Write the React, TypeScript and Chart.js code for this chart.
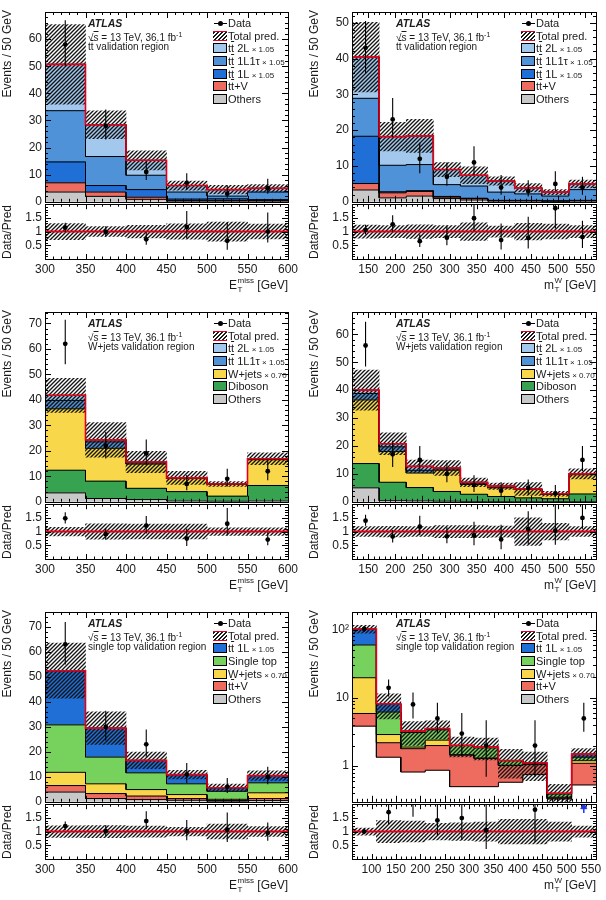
import React, { useEffect, useRef } from 'react';
import { Chart, registerables } from 'chart.js';

Chart.register(...registerables);

const FONT = "'Liberation Sans', Arial, Helvetica, sans-serif";
const INK = '#1a1a1a';

// process colours
const C_OTHERS = '#c8c8c8';
const C_TTV = '#ee6b60';
const C_TT1L = '#1f6fd6';
const C_TT1LTAU = '#4f92d8';
const C_TT2L = '#a3c8ee';
const C_WJETS = '#f8d84a';
const C_DIBOSON = '#37a24f';
const C_SINGLETOP = '#76d15d';
const C_TOTAL = '#e2001a';

// ---------- binning and axis labels ----------
const MET_EDGES = [300, 350, 400, 450, 500, 550, 600];
const MTW_EDGES = [120, 170, 220, 270, 320, 370, 420, 470, 520, 570];
const MTW_EDGES_ST = [60, 110, 160, 210, 260, 310, 360, 410, 460, 510, 560];
const MET_TICKS = [300, 350, 400, 450, 500, 550, 600];
const MTW_TICKS = [150, 200, 250, 300, 350, 400, 450, 500, 550];
const MTW_TICKS_ST = [100, 150, 200, 250, 300, 350, 400, 450, 500, 550];

// ---------- ttbar validation region, E_T^miss ----------
const ttMet_others = [3.6, 2.0, 0.9, 0.2, 0.2, 0.2];
const ttMet_ttV = [3.4, 1.6, 0.8, 0.3, 0.3, 0.3];
const ttMet_tt1L = [7.7, 2.4, 2.8, 0.5, 0.6, 0.3];
const ttMet_tt1Ltau = [18.9, 10.7, 5.3, 2.6, 1.0, 2.8];
const ttMet_tt2L = [17.1, 11.7, 5.5, 2.4, 2.4, 1.4];
const ttMet_unc = [0.29, 0.18, 0.23, 0.28, 0.35, 0.27];
const ttMet_data = [58, 28, 11, 7, 3, 5];
const ttMet_dataLo = [50, 23, 8, 4.5, 1.5, 3];
const ttMet_dataHi = [67, 34, 15, 10.5, 6, 8.5];

// ---------- ttbar validation region, m_T^W ----------
const ttMt_others = [3.3, 1.1, 1.6, 0.9, 0.5, 0.2, 0.2, 0.1, 0.2];
const ttMt_ttV = [1.8, 1.4, 1.3, 0.4, 0.4, 0.1, 0.1, 0.1, 0.1];
const ttMt_tt1L = [13.2, 0.3, 0.2, 0.2, 0.1, 0.1, 0.1, 0.1, 0.1];
const ttMt_tt1Ltau = [10.6, 7.4, 7.3, 3.3, 3.4, 2.3, 1.8, 1.3, 3.0];
const ttMt_tt2L = [11.5, 8.0, 8.0, 4.2, 3.0, 3.1, 1.7, 1.1, 1.6];
const ttMt_unc = [0.24, 0.22, 0.25, 0.22, 0.32, 0.2, 0.3, 0.27, 0.22];
const ttMt_data = [43, 23, 12, 7, 11, 4, 3, 5, 4];
const ttMt_dataLo = [36, 18, 8, 4.5, 7.5, 2, 1.5, 3, 2];
const ttMt_dataHi = [50.5, 29, 16.5, 11, 15.5, 7.5, 6, 8.5, 7];

// ---------- W+jets validation region, E_T^miss ----------
const wMet_others = [3.5, 1.3, 0.9, 0.3, 0.2, 0.3];
const wMet_diboson = [8.9, 6.8, 4.4, 3.7, 2.0, 6.1];
const wMet_wjets = [24.1, 12.9, 9.5, 5.1, 4.6, 10.1];
const wMet_tt1Ltau = [3.3, 2.5, 0.5, 0.2, 0.1, 0.2];
const wMet_tt2L = [2.0, 0.8, 0.3, 0.1, 0.1, 0.2];
const wMet_unc = [0.16, 0.28, 0.27, 0.27, 0.14, 0.14];
const wMet_data = [62, 22, 19, 7, 9, 12];
const wMet_dataLo = [54, 17, 14.5, 4.5, 6, 8.5];
const wMet_dataHi = [71.5, 27.5, 24.5, 10.5, 13, 16.5];

// ---------- W+jets validation region, m_T^W ----------
const wMt_others = [5.0, 0.4, 0.3, 0.2, 0.1, 0.1, 0.1, 0.1, 0.1];
const wMt_diboson = [8.7, 6.6, 4.8, 3.5, 2.6, 1.8, 1.3, 1.0, 2.7];
const wMt_wjets = [22.8, 11.0, 5.2, 7.6, 3.5, 3.1, 3.0, 1.5, 6.9];
const wMt_tt1Ltau = [2.3, 1.7, 1.0, 0.5, 0.5, 0.4, 0.1, 0.2, 0.2];
const wMt_tt2L = [1.2, 1.1, 1.4, 0.3, 0.3, 0.2, 0.1, 0.1, 0.1];
const wMt_unc = [0.18, 0.19, 0.18, 0.22, 0.22, 0.2, 0.5, 0.3, 0.18];
const wMt_data = [56, 17, 15, 10, 6, 4, 5, 3, 15];
const wMt_dataLo = [48.5, 12.5, 11, 7, 3.5, 2, 2.5, 1.5, 11];
const wMt_dataHi = [64.5, 22, 20, 14, 9.5, 7, 8, 6, 20];

// ---------- single top validation region, E_T^miss ----------
const stMet_others = [3.9, 1.3, 0.9, 0.6, 0.2, 0.5];
const stMet_ttV = [2.6, 2.0, 1.4, 0.7, 0.3, 0.8];
const stMet_wjets = [5.3, 3.9, 2.6, 1.6, 0.5, 2.3];
const stMet_singletop = [19.0, 10.7, 6.7, 4.3, 3.2, 4.0];
const stMet_tt1L = [21.7, 11.6, 5.0, 3.7, 1.4, 2.9];
const stMet_unc = [0.21, 0.22, 0.2, 0.16, 0.27, 0.18];
const stMet_data = [63, 30, 23, 11, 6, 10];
const stMet_dataLo = [55, 24.5, 18, 7.5, 3.5, 7];
const stMet_dataHi = [72, 36.5, 29, 15.5, 9.5, 14];

// ---------- single top validation region, m_T^W (log scale) ----------
const stMt_others = [3.85, 1.35, 0.82, 0.87, 0.5, 0.5, 0.58, 0.75, 0.33, 0.53];
const stMt_ttV = [2.05, 0.85, 0.98, 1.13, 0.95, 0.8, 0.44, 0.3, 0.01, 0.57];
const stMt_wjets = [13.8, 0.7, 0.1, 0.4, 0.02, 0.01, 0.01, 0.01, 0.01, 0.1];
const stMt_singletop = [39.8, 3.3, 1.2, 1.0, 0.53, 0.54, 0.17, 0.04, 0.04, 0.15];
const stMt_tt1L = [42.5, 2.0, 0.15, 0.15, 0.01, 0.05, 0.01, 0.01, 0.01, 0.15];
const stMt_unc = [0.13, 0.4, 0.38, 0.3, 0.32, 0.35, 0.45, 0.45, 0.35, 0.2];
const stMt_data: (number | null)[] = [102, 14, 8, 5, 3, 2, null, 2, null, 5];
const stMt_dataLo: (number | null)[] = [92, 10.5, 5, 3, 1.4, 0.7, null, 0.7, null, 3.2];
const stMt_dataHi: (number | null)[] = [113, 18.5, 12, 8.5, 6, 4.7, null, 4.7, null, 8.5];

// ---------- types ----------
type Comp = { name: string; tt?: boolean; scale?: string; color: string; values: number[] };
type PanelDef = {
  id: string;
  col: number;
  row: number;
  edges: number[];
  xTicks: number[];
  xVar: 'met' | 'mtw';
  log?: boolean;
  yMin: number;
  yMax: number;
  yTicks: number[];
  region: string;
  regionTt?: boolean;
  comps: Comp[]; // bottom of the stack first
  unc: number[];
  data: (number | null)[];
  dataLo: (number | null)[];
  dataHi: (number | null)[];
};

const ttComps = (o: number[], v: number[], l: number[], lt: number[], dl: number[]): Comp[] => [
  { name: 'Others', color: C_OTHERS, values: o },
  { name: '+V', tt: true, color: C_TTV, values: v },
  { name: ' 1L', tt: true, scale: '\u00d7 1.05', color: C_TT1L, values: l },
  { name: ' 1L1\u03c4', tt: true, scale: '\u00d7 1.05', color: C_TT1LTAU, values: lt },
  { name: ' 2L', tt: true, scale: '\u00d7 1.05', color: C_TT2L, values: dl },
];
const wComps = (o: number[], d: number[], w: number[], lt: number[], dl: number[]): Comp[] => [
  { name: 'Others', color: C_OTHERS, values: o },
  { name: 'Diboson', color: C_DIBOSON, values: d },
  { name: 'W+jets', scale: '\u00d7 0.70', color: C_WJETS, values: w },
  { name: ' 1L1\u03c4', tt: true, scale: '\u00d7 1.05', color: C_TT1LTAU, values: lt },
  { name: ' 2L', tt: true, scale: '\u00d7 1.05', color: C_TT2L, values: dl },
];
const stComps = (o: number[], v: number[], w: number[], s: number[], l: number[]): Comp[] => [
  { name: 'Others', color: C_OTHERS, values: o },
  { name: '+V', tt: true, color: C_TTV, values: v },
  { name: 'W+jets', scale: '\u00d7 0.70', color: C_WJETS, values: w },
  { name: 'Single top', color: C_SINGLETOP, values: s },
  { name: ' 1L', tt: true, scale: '\u00d7 1.05', color: C_TT1L, values: l },
];

const PANELS: PanelDef[] = [
  {
    id: 'tt-met', col: 0, row: 0, edges: MET_EDGES, xTicks: MET_TICKS, xVar: 'met',
    yMin: 0, yMax: 70, yTicks: [0, 10, 20, 30, 40, 50, 60],
    region: ' validation region', regionTt: true,
    comps: ttComps(ttMet_others, ttMet_ttV, ttMet_tt1L, ttMet_tt1Ltau, ttMet_tt2L),
    unc: ttMet_unc, data: ttMet_data, dataLo: ttMet_dataLo, dataHi: ttMet_dataHi,
  },
  {
    id: 'tt-mt', col: 1, row: 0, edges: MTW_EDGES, xTicks: MTW_TICKS, xVar: 'mtw',
    yMin: 0, yMax: 53, yTicks: [0, 10, 20, 30, 40, 50],
    region: ' validation region', regionTt: true,
    comps: ttComps(ttMt_others, ttMt_ttV, ttMt_tt1L, ttMt_tt1Ltau, ttMt_tt2L),
    unc: ttMt_unc, data: ttMt_data, dataLo: ttMt_dataLo, dataHi: ttMt_dataHi,
  },
  {
    id: 'w-met', col: 0, row: 1, edges: MET_EDGES, xTicks: MET_TICKS, xVar: 'met',
    yMin: 0, yMax: 74.5, yTicks: [0, 10, 20, 30, 40, 50, 60, 70],
    region: 'W+jets validation region',
    comps: wComps(wMet_others, wMet_diboson, wMet_wjets, wMet_tt1Ltau, wMet_tt2L),
    unc: wMet_unc, data: wMet_data, dataLo: wMet_dataLo, dataHi: wMet_dataHi,
  },
  {
    id: 'w-mt', col: 1, row: 1, edges: MTW_EDGES, xTicks: MTW_TICKS, xVar: 'mtw',
    yMin: 0, yMax: 68, yTicks: [0, 10, 20, 30, 40, 50, 60],
    region: 'W+jets validation region',
    comps: wComps(wMt_others, wMt_diboson, wMt_wjets, wMt_tt1Ltau, wMt_tt2L),
    unc: wMt_unc, data: wMt_data, dataLo: wMt_dataLo, dataHi: wMt_dataHi,
  },
  {
    id: 'st-met', col: 0, row: 2, edges: MET_EDGES, xTicks: MET_TICKS, xVar: 'met',
    yMin: 0, yMax: 76, yTicks: [0, 10, 20, 30, 40, 50, 60, 70],
    region: 'single top validation region',
    comps: stComps(stMet_others, stMet_ttV, stMet_wjets, stMet_singletop, stMet_tt1L),
    unc: stMet_unc, data: stMet_data, dataLo: stMet_dataLo, dataHi: stMet_dataHi,
  },
  {
    id: 'st-mt', col: 1, row: 2, edges: MTW_EDGES_ST, xTicks: MTW_TICKS_ST, xVar: 'mtw', log: true,
    yMin: 0.33, yMax: 181, yTicks: [1, 10, 100],
    region: 'single top validation region',
    comps: stComps(stMt_others, stMt_ttV, stMt_wjets, stMt_singletop, stMt_tt1L),
    unc: stMt_unc, data: stMt_data, dataLo: stMt_dataLo, dataHi: stMt_dataHi,
  },
];

// ---------- page geometry ----------
const COL_X = [0, 303];
const ROW_Y = [0, 300, 600];
const PLOT_L = [45, 49];
const PLOT_R = [288, 293];
const MAIN_TOP = 12;
const MAIN_BOTTOM = 202;
const RATIO_BOTTOM = 259;
const MAIN_H = 212;
const RATIO_TOP_CANVAS = 194;
const RATIO_H = 106;
const RATIO_MIN = 0;
const RATIO_MAX = 2;

// ---------- helpers ----------
const seq = (a: number, b: number, step: number) => {
  const out: number[] = [];
  for (let k = 0; a + k * step <= b + 1e-9; k++) out.push(Math.round((a + k * step) * 1000) / 1000);
  return out;
};
const logMinors = (lo: number, hi: number) => {
  const out: number[] = [];
  for (let d = 0.01; d <= hi; d *= 10) for (let k = 2; k <= 9; k++) { const v = d * k; if (v >= lo && v <= hi) out.push(v); }
  return out;
};
const steps = (edges: number[], vals: number[]) => {
  const pts: { x: number; y: number }[] = [];
  vals.forEach((v, i) => pts.push({ x: edges[i], y: v }, { x: edges[i + 1], y: v }));
  return pts;
};
const centersOf = (edges: number[]) => edges.slice(0, -1).map((e, i) => (e + edges[i + 1]) / 2);

function makeHatch(): CanvasPattern {
  const c = document.createElement('canvas');
  c.width = 4;
  c.height = 4;
  const g = c.getContext('2d')!;
  g.strokeStyle = '#141414';
  g.lineWidth = 1.35;
  g.beginPath();
  g.moveTo(0, 4); g.lineTo(4, 0);
  g.moveTo(-1, 1); g.lineTo(1, -1);
  g.moveTo(3, 5); g.lineTo(5, 3);
  g.stroke();
  return g.createPattern(c, 'repeat')!;
}

// frame with inward tick marks on all four sides
const frameTicks = {
  id: 'frameTicks',
  afterDatasetsDraw(chart: any, _a: any, o: any) {
    const { ctx, chartArea: a, scales } = chart;
    const sx = scales.x, sy = scales.y;
    ctx.save();
    ctx.strokeStyle = '#000';
    ctx.lineWidth = 1;
    ctx.beginPath();
    const xs: [number[], number][] = [[o.xMajor, o.xMajorLen], [o.xMinor, o.xMinorLen]];
    for (const [vals, len] of xs) {
      for (const v of vals) {
        const p = Math.round(sx.getPixelForValue(v)) + 0.5;
        if (p < a.left || p > a.right) continue;
        ctx.moveTo(p, a.bottom); ctx.lineTo(p, a.bottom - len);
        ctx.moveTo(p, a.top); ctx.lineTo(p, a.top + len);
      }
    }
    const ys: [number[], number][] = [[o.yMajor, o.yMajorLen], [o.yMinor, o.yMinorLen]];
    for (const [vals, len] of ys) {
      for (const v of vals) {
        const p = Math.round(sy.getPixelForValue(v)) + 0.5;
        if (p < a.top || p > a.bottom) continue;
        ctx.moveTo(a.left, p); ctx.lineTo(a.left + len, p);
        ctx.moveTo(a.right, p); ctx.lineTo(a.right - len, p);
      }
    }
    ctx.stroke();
    ctx.strokeRect(Math.round(a.left) + 0.5, Math.round(a.top) + 0.5, Math.round(a.right - a.left), Math.round(a.bottom - a.top));
    ctx.restore();
  },
};

const stepLine = (edges: number[], vals: number[], color: string, width: number, order: number) => ({
  type: 'line', data: steps(edges, vals), borderColor: color, borderWidth: width,
  pointRadius: 0, fill: false, order, tension: 0,
});
const histBar = (data: any[], bg: any, order: number) => ({
  type: 'bar', data, backgroundColor: bg, borderWidth: 0, grouped: false,
  barPercentage: 1, categoryPercentage: 1, order,
});

function cumulative(p: PanelDef) {
  const cum: number[][] = [];
  p.comps.forEach((c, k) => cum.push(c.values.map((v, i) => v + (k > 0 ? cum[k - 1][i] : 0))));
  return cum;
}

function commonOptions(pad: any, yScale: any, xScale: any, ft: any) {
  return {
    animation: false, responsive: false, devicePixelRatio: 1, events: [],
    layout: { padding: pad },
    plugins: { legend: { display: false }, tooltip: { enabled: false }, frameTicks: ft },
    scales: { x: xScale, y: yScale },
  };
}

function mainConfig(p: PanelDef, hatch: CanvasPattern): any {
  const centers = centersOf(p.edges);
  const cum = cumulative(p);
  const total = cum[cum.length - 1];
  const ds: any[] = [];
  p.comps.forEach((c, k) =>
    ds.push(histBar(centers.map((x, i) => ({ x, y: [k > 0 ? cum[k - 1][i] : 0, cum[k][i]] })), c.color, 100)));
  cum.forEach((row) => ds.push(stepLine(p.edges, row, '#000', 1, 90)));
  ds.push(histBar(centers.map((x, i) => ({ x, y: [total[i] * (1 - p.unc[i]), total[i] * (1 + p.unc[i])] })), hatch, 50));
  ds.push(stepLine(p.edges, total, C_TOTAL, 1.6, 40));
  const bars: any[] = [];
  const pts: any[] = [];
  p.data.forEach((d, i) => {
    if (d == null) return;
    bars.push({ x: centers[i], y: p.dataLo[i] }, { x: centers[i], y: p.dataHi[i] }, { x: centers[i], y: null });
    pts.push({ x: centers[i], y: d });
  });
  ds.push({ type: 'line', data: bars, borderColor: '#000', borderWidth: 1.1, pointRadius: 0, spanGaps: false, fill: false, order: 20 });
  ds.push({ type: 'line', data: pts, showLine: false, pointRadius: 2.4, pointBackgroundColor: '#000', pointBorderWidth: 0, order: 10 });

  const col = p.col;
  const yMinor = p.log ? logMinors(p.yMin, p.yMax) : seq(0, p.yMax, 2);
  return {
    type: 'bar',
    data: { datasets: ds },
    options: commonOptions(
      { top: MAIN_TOP, right: 303 - PLOT_R[col], bottom: MAIN_H - MAIN_BOTTOM, left: 0 },
      {
        type: p.log ? 'logarithmic' : 'linear', min: p.yMin, max: p.yMax, position: 'left',
        grid: { display: false, drawTicks: false }, border: { display: false },
        ticks: {
          font: { family: FONT, size: 12 }, color: INK, padding: 3,
          callback: (v: number) => (v === 100 && p.log ? '10\u00b2' : String(v)),
        },
        afterBuildTicks: (s: any) => { s.ticks = p.yTicks.map((value) => ({ value })); },
        afterFit: (s: any) => { s.width = PLOT_L[col]; },
      },
      {
        type: 'linear', min: p.edges[0], max: p.edges[p.edges.length - 1], offset: false, display: false,
        afterBuildTicks: (s: any) => { s.ticks = p.xTicks.map((value) => ({ value })); },
      },
      {
        xMajor: p.xTicks, xMinor: seq(p.edges[0], p.edges[p.edges.length - 1], 10), xMajorLen: 6, xMinorLen: 3,
        yMajor: p.yTicks, yMinor, yMajorLen: 6, yMinorLen: 3,
      },
    ),
    plugins: [frameTicks],
  };
}

function ratioConfig(p: PanelDef, hatch: CanvasPattern): any {
  const centers = centersOf(p.edges);
  const cum = cumulative(p);
  const total = cum[cum.length - 1];
  const ds: any[] = [];
  ds.push(histBar(centers.map((x, i) => ({ x, y: [1 - p.unc[i], 1 + p.unc[i]] })), hatch, 50));
  ds.push({
    type: 'line', data: [{ x: p.edges[0], y: 1 }, { x: p.edges[p.edges.length - 1], y: 1 }],
    borderColor: C_TOTAL, borderWidth: 2, pointRadius: 0, fill: false, order: 40,
  });
  const bars: any[] = [];
  const pts: any[] = [];
  const arrows: any[] = [];
  const arrowHeads: any[] = [];
  p.data.forEach((d, i) => {
    if (d == null) return;
    const r = d / total[i];
    const lo = (p.dataLo[i] as number) / total[i];
    const hi = (p.dataHi[i] as number) / total[i];
    if (lo > RATIO_MAX) {
      arrows.push({ x: centers[i], y: RATIO_MAX - 0.32 }, { x: centers[i], y: RATIO_MAX - 0.06 }, { x: centers[i], y: null });
      arrowHeads.push({ x: centers[i], y: RATIO_MAX - 0.1 });
      return;
    }
    bars.push({ x: centers[i], y: lo }, { x: centers[i], y: hi }, { x: centers[i], y: null });
    pts.push({ x: centers[i], y: r });
  });
  ds.push({ type: 'line', data: bars, borderColor: '#000', borderWidth: 1.1, pointRadius: 0, spanGaps: false, fill: false, order: 20 });
  ds.push({ type: 'line', data: pts, showLine: false, pointRadius: 2.4, pointBackgroundColor: '#000', pointBorderWidth: 0, order: 10 });
  ds.push({ type: 'line', data: arrows, borderColor: '#2233ee', borderWidth: 1.5, pointRadius: 0, spanGaps: false, fill: false, order: 15 });
  ds.push({ type: 'line', data: arrowHeads, showLine: false, pointStyle: 'triangle', pointRadius: 3.5, pointBackgroundColor: '#2233ee', pointBorderColor: '#2233ee', order: 14 });

  const col = p.col;
  const chartBottom = RATIO_BOTTOM - RATIO_TOP_CANVAS;
  return {
    type: 'bar',
    data: { datasets: ds },
    options: commonOptions(
      { top: MAIN_BOTTOM - RATIO_TOP_CANVAS, right: 303 - PLOT_R[col], bottom: 0, left: 0 },
      {
        type: 'linear', min: RATIO_MIN, max: RATIO_MAX, position: 'left',
        grid: { display: false, drawTicks: false }, border: { display: false },
        ticks: { font: { family: FONT, size: 12 }, color: INK, padding: 3, callback: (v: number) => String(v) },
        afterBuildTicks: (s: any) => { s.ticks = [0.5, 1, 1.5].map((value) => ({ value })); },
        afterFit: (s: any) => { s.width = PLOT_L[col]; },
      },
      {
        type: 'linear', min: p.edges[0], max: p.edges[p.edges.length - 1], offset: false, position: 'bottom',
        grid: { display: false, drawTicks: false }, border: { display: false },
        ticks: { font: { family: FONT, size: 12 }, color: INK, padding: 3, maxRotation: 0, autoSkip: false, callback: (v: number) => String(v) },
        afterBuildTicks: (s: any) => { s.ticks = p.xTicks.map((value) => ({ value })); },
        afterFit: (s: any) => { s.height = RATIO_H - chartBottom; },
      },
      {
        xMajor: p.xTicks, xMinor: seq(p.edges[0], p.edges[p.edges.length - 1], 10), xMajorLen: 5, xMinorLen: 2.5,
        yMajor: [0.5, 1, 1.5], yMinor: seq(0.1, 1.9, 0.1), yMajorLen: 6, yMinorLen: 3,
      },
    ),
    plugins: [frameTicks],
  };
}

// ---------- text pieces ----------
const TTbar = () => (
  <span>t<span style={{ textDecoration: 'overline' }}>t</span></span>
);

function XTitle({ v }: { v: 'met' | 'mtw' }) {
  const met = v === 'met';
  return (
    <span style={{ whiteSpace: 'nowrap' }}>
      {met ? 'E' : 'm'}
      <span style={{ display: 'inline-flex', flexDirection: 'column', verticalAlign: 'middle', fontSize: 8, lineHeight: '9px', marginLeft: 0.5, marginTop: -2 }}>
        <span>{met ? 'miss' : 'W'}</span>
        <span>T</span>
      </span>
      {' [GeV]'}
    </span>
  );
}

const hatchCss = 'repeating-linear-gradient(-45deg, #1a1a1a 0 1.2px, transparent 1.2px 2.8px)';

function Legend({ p }: { p: PanelDef }) {
  const ox = COL_X[p.col];
  const oy = ROW_Y[p.row];
  const mx = ox + (p.col === 0 ? 213 : 218);
  const tx = ox + (p.col === 0 ? 228 : 233);
  const rowY = (k: number) => oy + 23.3 + 12.55 * k;
  const entries = [...p.comps].reverse();
  const label = (k: number, content: React.ReactNode) => (
    <div key={'t' + k} style={{ position: 'absolute', left: tx, top: rowY(k) - 7, height: 14, lineHeight: '14px', fontSize: 11, whiteSpace: 'nowrap', color: INK }}>
      {content}
    </div>
  );
  const items: React.ReactNode[] = [];
  // data
  items.push(<div key="dl" style={{ position: 'absolute', left: mx + 1, top: rowY(0) - 0.5, width: 13, height: 1, background: '#000' }} />);
  items.push(<div key="dd" style={{ position: 'absolute', left: mx + 5, top: rowY(0) - 2.5, width: 5, height: 5, borderRadius: 3, background: '#000' }} />);
  items.push(label(0, 'Data'));
  // total prediction
  items.push(
    <div key="tp" style={{ position: 'absolute', left: mx, top: rowY(1) - 5, width: 14, height: 10, backgroundImage: hatchCss, borderTop: `1px solid ${C_TOTAL}`, borderBottom: `1px solid ${C_TOTAL}`, boxSizing: 'border-box' }} />,
  );
  items.push(label(1, 'Total pred.'));
  entries.forEach((c, j) => {
    const k = j + 2;
    items.push(
      <div key={'s' + k} style={{ position: 'absolute', left: mx, top: rowY(k) - 5, width: 14, height: 10, background: c.color, border: '1px solid #000', boxSizing: 'border-box' }} />,
    );
    items.push(
      label(k, (
        <>
          {c.tt ? <TTbar /> : null}
          {c.name}
          {c.scale ? <span style={{ fontSize: 8 }}>{' ' + c.scale}</span> : null}
        </>
      )),
    );
  });
  return <>{items}</>;
}

function Panel({ p }: { p: PanelDef }) {
  const mainRef = useRef<HTMLCanvasElement>(null);
  const ratioRef = useRef<HTMLCanvasElement>(null);
  useEffect(() => {
    const c1 = new Chart(mainRef.current!, mainConfig(p, makeHatch()));
    const c2 = new Chart(ratioRef.current!, ratioConfig(p, makeHatch()));
    return () => { c1.destroy(); c2.destroy(); };
  }, [p]);
  const ox = COL_X[p.col];
  const oy = ROW_Y[p.row];
  const ax = ox + (p.col === 0 ? 88 : 93);
  const titleX = ox + (p.col === 0 ? 0 : 4);
  return (
    <>
      <canvas ref={mainRef} width={303} height={MAIN_H} style={{ position: 'absolute', left: ox, top: oy, display: 'block' }} />
      <canvas ref={ratioRef} width={303} height={RATIO_H} style={{ position: 'absolute', left: ox, top: oy + RATIO_TOP_CANVAS, display: 'block' }} />
      <div style={{ position: 'absolute', left: ax, top: oy + 16.5, fontSize: 10.5, lineHeight: '13px', fontWeight: 'bold', fontStyle: 'italic', color: INK }}>ATLAS</div>
      <div style={{ position: 'absolute', left: ax, top: oy + 27.5, fontSize: 10, lineHeight: '13px', whiteSpace: 'nowrap', color: INK }}>
        {'\u221a'}<span style={{ textDecoration: 'overline' }}>s</span>{' = 13 TeV, 36.1 fb'}<sup style={{ fontSize: 7, verticalAlign: 4 }}>-1</sup>
      </div>
      <div style={{ position: 'absolute', left: ax, top: oy + 40, fontSize: 10, lineHeight: '13px', whiteSpace: 'nowrap', color: INK }}>
        {p.regionTt ? <TTbar /> : null}{p.region}
      </div>
      <Legend p={p} />
      <div style={{ position: 'absolute', left: titleX, top: oy + 10, writingMode: 'vertical-rl', transform: 'rotate(180deg)', fontSize: 12, lineHeight: '14px', whiteSpace: 'nowrap', color: INK }}>
        Events / 50 GeV
      </div>
      <div style={{ position: 'absolute', left: titleX, top: oy + 205, writingMode: 'vertical-rl', transform: 'rotate(180deg)', fontSize: 12, lineHeight: '14px', whiteSpace: 'nowrap', color: INK }}>
        Data/Pred
      </div>
      <div style={{ position: 'absolute', right: 606 - (ox + PLOT_R[p.col]), top: oy + 276, fontSize: 12, lineHeight: '18px', color: INK }}>
        <XTitle v={p.xVar} />
      </div>
    </>
  );
}

export default function App() {
  useEffect(() => {
    document.body.style.margin = '0';
  }, []);
  return (
    <div style={{ position: 'absolute', left: 0, top: 0, width: 606, height: 900, background: '#fff', fontFamily: FONT, overflow: 'hidden' }}>
      {PANELS.map((p) => <Panel key={p.id} p={p} />)}
    </div>
  );
}
